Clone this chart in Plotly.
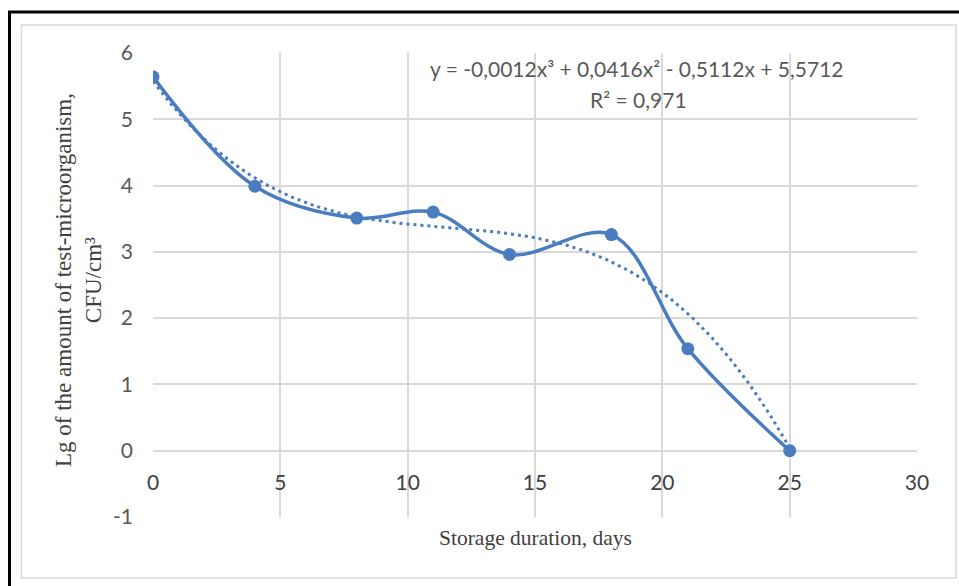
import plotly.graph_objects as go
import numpy as np

# Data
days = [0, 4, 8, 11, 14, 18, 21, 25]
lg_cfu = [5.64, 3.99, 3.51, 3.60, 2.96, 3.26, 1.54, 0.00]
trend_coef = [-0.0012, 0.0416, -0.5112, 5.5712]  # cubic trendline coefficients
x_ticks = [0, 5, 10, 15, 20, 25, 30]
y_ticks = [-1, 0, 1, 2, 3, 4, 5, 6]
y_tick_labels = ["-1", "0", "1", "2", "3", "4", "5", "6"]
eq_text = "y = -0,0012x³ + 0,0416x² - 0,5112x + 5,5712"
r2_text = "R² = 0,971"
x_title = "Storage duration, days"
y_title = "Lg of the amount of test-microorganism,<br>CFU/cm³"

W, H = 959, 586
L, T = 153, 53
R = W - 917
B = H - 517
PW, PH = W - L - R, H - T - B

def px(p):
    return (p - L) / PW

def py(q):
    return (H - B - q) / PH

blue = "#4A7CC0"
grid = "#d9d9d9"
tick_col = "#595959"

trend_x = np.linspace(days[0], days[-1], 200)
trend_y = np.polyval(trend_coef, trend_x)

fig = go.Figure()
fig.add_trace(go.Scatter(
    x=trend_x, y=trend_y, mode="lines",
    line=dict(color=blue, width=3, dash="3px,4px"),
    hoverinfo="skip", showlegend=False))
fig.add_trace(go.Scatter(
    x=days, y=lg_cfu, mode="lines+markers",
    line=dict(color=blue, width=3.5, shape="spline", smoothing=1.0),
    marker=dict(color=blue, size=13),
    showlegend=False))

fig.update_layout(
    width=W, height=H,
    margin=dict(l=L, r=R, t=T, b=B),
    paper_bgcolor="white", plot_bgcolor="white",
    xaxis=dict(range=[0, 30], tickvals=x_ticks, showgrid=True, gridcolor=grid,
               gridwidth=1.5, zeroline=False, showline=False, ticks="",
               anchor="free", position=1 / 7, ticklabelstandoff=17,
               tickfont=dict(family="Lato", size=21, color="#404040")),
    yaxis=dict(range=[-1, 6], tickvals=y_ticks, ticktext=y_tick_labels,
               showgrid=True, gridcolor=grid,
               gridwidth=1.5, zeroline=False, showline=False, ticks="",
               ticklabelstandoff=19,
               tickfont=dict(family="Lato", size=21, color=tick_col)),
    font=dict(family="Lato", color=tick_col),
)

fig.add_annotation(x=0.5, y=py(538), xref="paper", yref="paper", text=x_title,
                   showarrow=False, xanchor="center", yanchor="middle",
                   font=dict(family="Liberation Serif", size=21.5, color="#404040"))
fig.add_annotation(x=px(78), y=py(280), xref="paper", yref="paper", text=y_title,
                   showarrow=False, xanchor="center", yanchor="middle", textangle=-90,
                   font=dict(family="Liberation Serif", size=23, color="#404040"))
fig.add_annotation(x=px(637), y=py(68), xref="paper", yref="paper", text=eq_text,
                   showarrow=False, xanchor="center", yanchor="middle",
                   font=dict(family="Lato", size=21, color=tick_col))
fig.add_annotation(x=px(638), y=py(99), xref="paper", yref="paper", text=r2_text,
                   showarrow=False, xanchor="center", yanchor="middle",
                   font=dict(family="Lato", size=21, color=tick_col))

# frames
fig.add_shape(type="rect", xref="paper", yref="paper",
              x0=px(21.5), x1=px(956), y0=py(578), y1=py(25),
              line=dict(color=grid, width=1.5), layer="below")
fig.add_shape(type="line", xref="paper", yref="paper",
              x0=px(9.5), x1=px(9.5), y0=py(12), y1=py(600),
              line=dict(color="black", width=3))
fig.add_shape(type="line", xref="paper", yref="paper",
              x0=px(8), x1=px(975), y0=py(12), y1=py(12),
              line=dict(color="black", width=3))

fig.write_html("out.html", config={"displayModeBar": False},
               post_script="document.body.style.margin='0';document.body.style.overflow='hidden';")
